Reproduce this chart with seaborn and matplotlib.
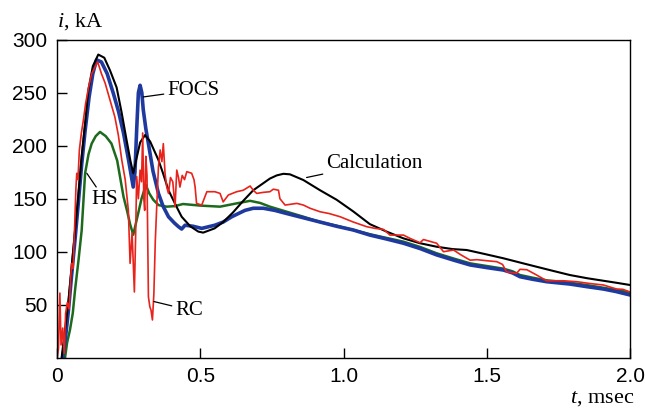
import matplotlib
matplotlib.use('Agg')
import matplotlib.pyplot as plt
import seaborn as sns
import pandas as pd

# Calculation (black)
calc_t = [0.016, 0.039, 0.063, 0.074, 0.086, 0.098, 0.109, 0.125, 0.144, 0.165, 0.185, 0.208,
          0.225, 0.243, 0.256, 0.266, 0.275, 0.29, 0.307, 0.325, 0.354, 0.37, 0.389, 0.418,
          0.435, 0.465, 0.493, 0.51, 0.55, 0.58, 0.614, 0.65, 0.685, 0.743, 0.767,
          0.79, 0.813, 0.86, 0.918, 0.976, 1.034, 1.092, 1.15, 1.209, 1.267, 1.325, 1.38,
          1.43, 1.49, 1.558, 1.62, 1.674, 1.73, 1.79, 1.85, 1.907, 1.95, 2.0]
calc_i = [0, 51, 120, 152, 190, 221, 252, 275, 286, 283, 271, 255,
          232, 205, 186, 174, 185, 203, 210, 204, 186.5, 174, 158, 142,
          133, 124, 119, 118, 122, 128, 137, 148, 158, 169, 172,
          173.5, 173, 167.6, 158, 149, 138, 126, 119, 112.6, 108, 104.7, 102.5,
          101.6, 98, 93.8, 89.5, 85.8, 82, 78, 75, 72.6, 70.8, 68.6]

# FOCS (blue)
focs_t = [0.02, 0.03, 0.04, 0.05, 0.063, 0.074, 0.086, 0.098, 0.112, 0.125, 0.138, 0.155,
          0.175, 0.197, 0.215, 0.232, 0.25, 0.266, 0.272, 0.278, 0.284, 0.29, 0.296, 0.301,
          0.31, 0.319, 0.335, 0.354, 0.37, 0.389, 0.41, 0.424, 0.435, 0.447, 0.475, 0.505,
          0.551, 0.58, 0.61, 0.656, 0.685, 0.72, 0.76, 0.802, 0.86, 0.918, 0.976, 1.034,
          1.092, 1.15, 1.209, 1.267, 1.325, 1.385, 1.442, 1.5, 1.558, 1.59, 1.616, 1.66,
          1.709, 1.79, 1.85, 1.907, 1.95, 2.0]
focs_i = [0, 20, 45, 75, 112, 145, 182, 214, 246, 268, 281, 279,
          268, 249, 232, 212, 186, 161, 175, 215, 250, 257, 250, 234,
          216, 202, 176, 155, 143, 133, 127, 123.6, 121.4, 125, 124, 122,
          125, 128, 133, 139, 141, 141, 139, 136, 132, 128, 124, 120.5,
          115.7, 112, 108, 103, 97, 92, 87.5, 85, 82.7, 80, 76.4, 74,
          71.7, 69.5, 67, 64.8, 62.5, 59.2]

# HS (green)
hs_t = [0.028, 0.035, 0.045, 0.055, 0.063, 0.075, 0.086, 0.098, 0.11, 0.121, 0.135, 0.15,
        0.17, 0.19, 0.21, 0.232, 0.245, 0.255, 0.266, 0.278, 0.295, 0.31, 0.322, 0.336,
        0.354, 0.383, 0.41, 0.44, 0.5, 0.569, 0.627, 0.674, 0.709, 0.743, 0.802, 0.86,
        0.918, 0.976, 1.034, 1.092, 1.15, 1.209, 1.267, 1.325, 1.385, 1.442, 1.5, 1.558,
        1.59, 1.616, 1.66, 1.709, 1.79, 1.85, 1.907, 1.95, 2.0]
hs_i = [0, 14, 26, 42, 64, 92, 120, 174, 192, 202, 209, 213,
        209, 202, 186, 152, 138, 126, 116, 130, 150, 163, 155, 149,
        144, 142.5, 143, 145, 143.5, 142.5, 145.6, 148, 146, 142.5, 137.7, 133,
        128, 124.5, 120.5, 116.5, 113, 109.5, 104.5, 98.5, 93.5, 89, 86.5, 84,
        81.5, 78, 75.5, 73, 70.8, 68.5, 66, 64, 61.5]

# RC (red)
rc_t = [0.0, 0.005, 0.01, 0.014, 0.02, 0.025, 0.03, 0.036, 0.042, 0.047, 0.051, 0.056,
        0.062, 0.066, 0.069, 0.073, 0.078, 0.085, 0.092, 0.1, 0.11, 0.121, 0.132, 0.142,
        0.155, 0.168, 0.185, 0.202, 0.214, 0.226, 0.238, 0.249, 0.255, 0.262, 0.27, 0.274,
        0.278, 0.284, 0.29, 0.295, 0.299, 0.303, 0.306, 0.31, 0.314, 0.319, 0.324, 0.328,
        0.333, 0.338, 0.343, 0.348, 0.354, 0.36, 0.366, 0.371, 0.377, 0.383, 0.389, 0.396,
        0.404, 0.412, 0.418, 0.424, 0.429, 0.437, 0.445, 0.453, 0.47, 0.478, 0.482, 0.487,
        0.505, 0.515, 0.523, 0.551, 0.569, 0.58, 0.598, 0.627, 0.65, 0.674, 0.685, 0.697,
        0.72, 0.743, 0.755, 0.773, 0.778, 0.796, 0.837, 0.86, 0.883, 0.918, 0.95, 0.988,
        1.034, 1.081, 1.11, 1.14, 1.162, 1.209, 1.232, 1.267, 1.279, 1.325, 1.349, 1.384,
        1.41, 1.442, 1.465, 1.5, 1.535, 1.555, 1.569, 1.604, 1.616, 1.64, 1.674, 1.709,
        1.767, 1.814, 1.86, 1.907, 1.953, 1.975, 2.0]
rc_i = [0, 8, 61, 12, 28, 4, 42, 52, 46, 72, 89, 84,
        128, 160, 174, 168, 196, 212, 224, 240, 255, 268, 274, 279,
        268, 259, 243, 227, 210, 186.5, 168, 139, 89, 118, 62, 110,
        171, 150, 177, 166, 212, 150, 139, 190, 172, 57.5, 48, 45,
        35.6, 60, 110, 142.5, 180, 196, 185, 202, 174, 161, 155, 170,
        166, 142.5, 177, 170, 161, 172, 168, 175.5, 174, 168, 161, 145.6,
        144, 151, 156.6, 156.6, 155, 147, 153.5, 156.6, 158, 162, 158, 155,
        156, 156.6, 159, 158, 150, 144, 145.6, 144, 141, 137.7, 136, 133,
        128, 123.6, 122, 121, 115.7, 115.7, 112.6, 108.5, 111.5, 108, 100, 101.6,
        97, 92, 92.5, 91.5, 90.6, 88, 81, 79.6, 83.4, 83, 78, 72.6,
        72.6, 71.7, 70, 68.6, 64.8, 64.5, 62]

x_ticks = [0, 0.5, 1.0, 1.5, 2.0]
x_labels = ['0', '0.5', '1.0', '1.5', '2.0']
y_ticks = [50, 100, 150, 200, 250, 300]

sns.set_style('ticks')
plt.rcParams['font.family'] = ['Liberation Sans', 'DejaVu Sans']
plt.rcParams['mathtext.fontset'] = 'custom'
plt.rcParams['mathtext.it'] = 'Liberation Serif:italic'
plt.rcParams['mathtext.rm'] = 'Liberation Serif'

fig = plt.figure(figsize=(6.45, 4.09), dpi=100)
ax = fig.add_axes([0.0884, 0.1254, 0.8884, 0.7775])

curves = [
    (hs_t, hs_i, '#1d6a1d', 1.8),
    (focs_t, focs_i, '#1f3a9e', 2.6),
    (calc_t, calc_i, 'black', 1.5),
    (rc_t, rc_i, '#e8231b', 1.2),
]
for t, i, col, lw in curves:
    df = pd.DataFrame({'t': t, 'i': i})
    sns.lineplot(data=df, x='t', y='i', ax=ax, color=col, lw=lw,
                 estimator=None, sort=False)

ax.set_xlim(0, 2.0)
ax.set_ylim(0, 300)
ax.set_xticks(x_ticks)
ax.set_xticklabels(x_labels)
ax.set_yticks(y_ticks)
ax.set_xlabel('')
ax.set_ylabel('')
ax.tick_params(direction='in', length=7, width=1, labelsize=15, color='black',
               labelcolor='black', pad=7)
for sp in ax.spines.values():
    sp.set_visible(True)
    sp.set_color('black')
    sp.set_linewidth(1.0)

serif = dict(family='Liberation Serif', fontsize=15, color='black')
line = dict(arrowstyle='-', color='black', lw=0.9, shrinkA=0, shrinkB=0)
ax.annotate('FOCS', xy=(0.301, 246), xytext=(0.384, 252.5), va='center', ha='left',
            arrowprops=line, **serif)
ax.annotate('HS', xy=(0.104, 174), xytext=(0.121, 149), va='center', ha='left',
            arrowprops=line, **serif)
ax.annotate('RC', xy=(0.338, 53), xytext=(0.412, 45), va='center', ha='left',
            arrowprops=line, **serif)
ax.annotate('Calculation', xy=(0.871, 170), xytext=(0.939, 183.4), va='center', ha='left',
            arrowprops=line, **serif)

axis_lbl = dict(family='Liberation Serif', fontsize=16, color='black')
fig.text(57 / 645, 1 - 22 / 409, '$i$, kA', ha='left', va='center', **axis_lbl)
fig.text(634 / 645, 1 - 398 / 409, '$t$, msec', ha='right', va='center', **axis_lbl)

fig.savefig('out.png', dpi=100)
